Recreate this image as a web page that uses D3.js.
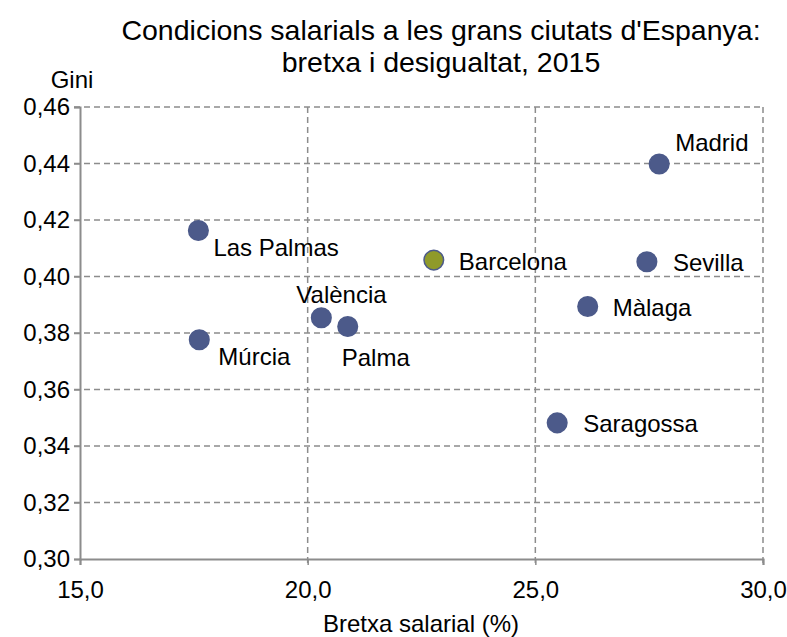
<!DOCTYPE html>
<html>
<head>
<meta charset="utf-8">
<script src="https://cdn.jsdelivr.net/npm/d3@7"></script>
<style>
  body { margin: 0; background: #fff; }
  text { font-family: "Liberation Sans", Arial, sans-serif; fill: #000; }
</style>
</head>
<body>
<div id="chart"></div>
<script>
const cities = ["Madrid", "Las Palmas", "Barcelona", "Sevilla", "Màlaga", "València", "Palma", "Múrcia", "Saragossa"]
const bretxa = [27.72, 17.6, 22.77, 27.45, 26.15, 20.3, 20.88, 17.62, 25.48]
const gini = [0.4398, 0.4163, 0.4058, 0.4052, 0.3894, 0.3854, 0.3823, 0.3776, 0.3482]
const xTicks = [15, 20, 25, 30]
const yTicks = [0.30, 0.32, 0.34, 0.36, 0.38, 0.40, 0.42, 0.44, 0.46]

// label offsets (dx, dy) from the dot
const labelPos = {
  "Madrid": [16, -21],
  "Las Palmas": [15, 17],
  "Barcelona": [25, 1],
  "Sevilla": [26, 1],
  "Màlaga": [25, 1],
  "València": [-25, -23],
  "Palma": [-6, 31],
  "Múrcia": [19, 17],
  "Saragossa": [26, 1]
}

const w = 787
const h = 637
const m = {left: 80, right: 24, top: 107, bottom: 78}

const svg = d3.select("#chart").append("svg")
  .attr("width", w)
  .attr("height", h)

const x = d3.scaleLinear().domain([15, 30]).range([m.left, w - m.right])
const y = d3.scaleLinear().domain([0.30, 0.46]).range([h - m.bottom, m.top])

const fmt = d => d.toFixed(1).replace(".", ",")
const fmtY = d => d.toFixed(2).replace(".", ",")

// grid
svg.append("g").selectAll("line")
  .data(yTicks.filter(d => d > 0.30))
  .enter().append("line")
  .attr("x1", x(15) - 6).attr("x2", x(30))
  .attr("y1", d => y(d)).attr("y2", d => y(d))
  .attr("stroke", "#8c8c8c").attr("stroke-width", 1.5)
  .attr("stroke-dasharray", "6,4")

svg.append("g").selectAll("line")
  .data(xTicks.filter(d => d > 15))
  .enter().append("line")
  .attr("x1", d => x(d)).attr("x2", d => x(d))
  .attr("y1", y(0.46)).attr("y2", y(0.30) + 6)
  .attr("stroke", "#8c8c8c").attr("stroke-width", 1.5)
  .attr("stroke-dasharray", "6,4")

// axes
const xAxis = svg.append("g")
  .attr("transform", `translate(0,${y(0.30)})`)
  .call(d3.axisBottom(x).tickValues(xTicks).tickFormat(fmt).tickSize(6).tickPadding(16))
const yAxis = svg.append("g")
  .attr("transform", `translate(${x(15)},0)`)
  .call(d3.axisLeft(y).tickValues(yTicks).tickFormat(fmtY).tickSize(6).tickPadding(4))

;[xAxis, yAxis].forEach(a => {
  a.select(".domain").attr("stroke", "#8c8c8c").attr("stroke-width", 2)
  a.selectAll(".tick line").attr("stroke", "#8c8c8c").attr("stroke-width", 1.5)
  a.selectAll(".tick text").attr("font-size", 24).attr("fill", "#000")
    .style("font-family", '"Liberation Sans", Arial, sans-serif')
})

// points
const pts = cities.map((c, i) => ({name: c, bx: bretxa[i], g: gini[i]}))

svg.append("g").selectAll("circle")
  .data(pts)
  .enter().append("circle")
  .attr("cx", d => x(d.bx))
  .attr("cy", d => y(d.g))
  .attr("r", 9.8)
  .attr("fill", d => d.name == "Barcelona" ? "#8f9a2a" : "#4c5a8a")
  .attr("stroke", "#4c5a8a")
  .attr("stroke-width", 1.5)

svg.append("g").selectAll("text")
  .data(pts)
  .enter().append("text")
  .attr("x", d => x(d.bx) + labelPos[d.name][0])
  .attr("y", d => y(d.g) + labelPos[d.name][1])
  .attr("dy", "0.35em")
  .attr("font-size", 24)
  .text(d => d.name)

// titles
svg.append("text")
  .attr("x", 441).attr("y", 40)
  .attr("text-anchor", "middle")
  .attr("font-size", 28.5)
  .text("Condicions salarials a les grans ciutats d'Espanya:")
svg.append("text")
  .attr("x", 441).attr("y", 72)
  .attr("text-anchor", "middle")
  .attr("font-size", 28.5)
  .text("bretxa i desigualtat, 2015")

svg.append("text")
  .attr("x", 72).attr("y", 88)
  .attr("text-anchor", "middle")
  .attr("font-size", 24)
  .text("Gini")

svg.append("text")
  .attr("x", 421).attr("y", 632)
  .attr("text-anchor", "middle")
  .attr("font-size", 24)
  .text("Bretxa salarial (%)")
</script>
</body>
</html>
